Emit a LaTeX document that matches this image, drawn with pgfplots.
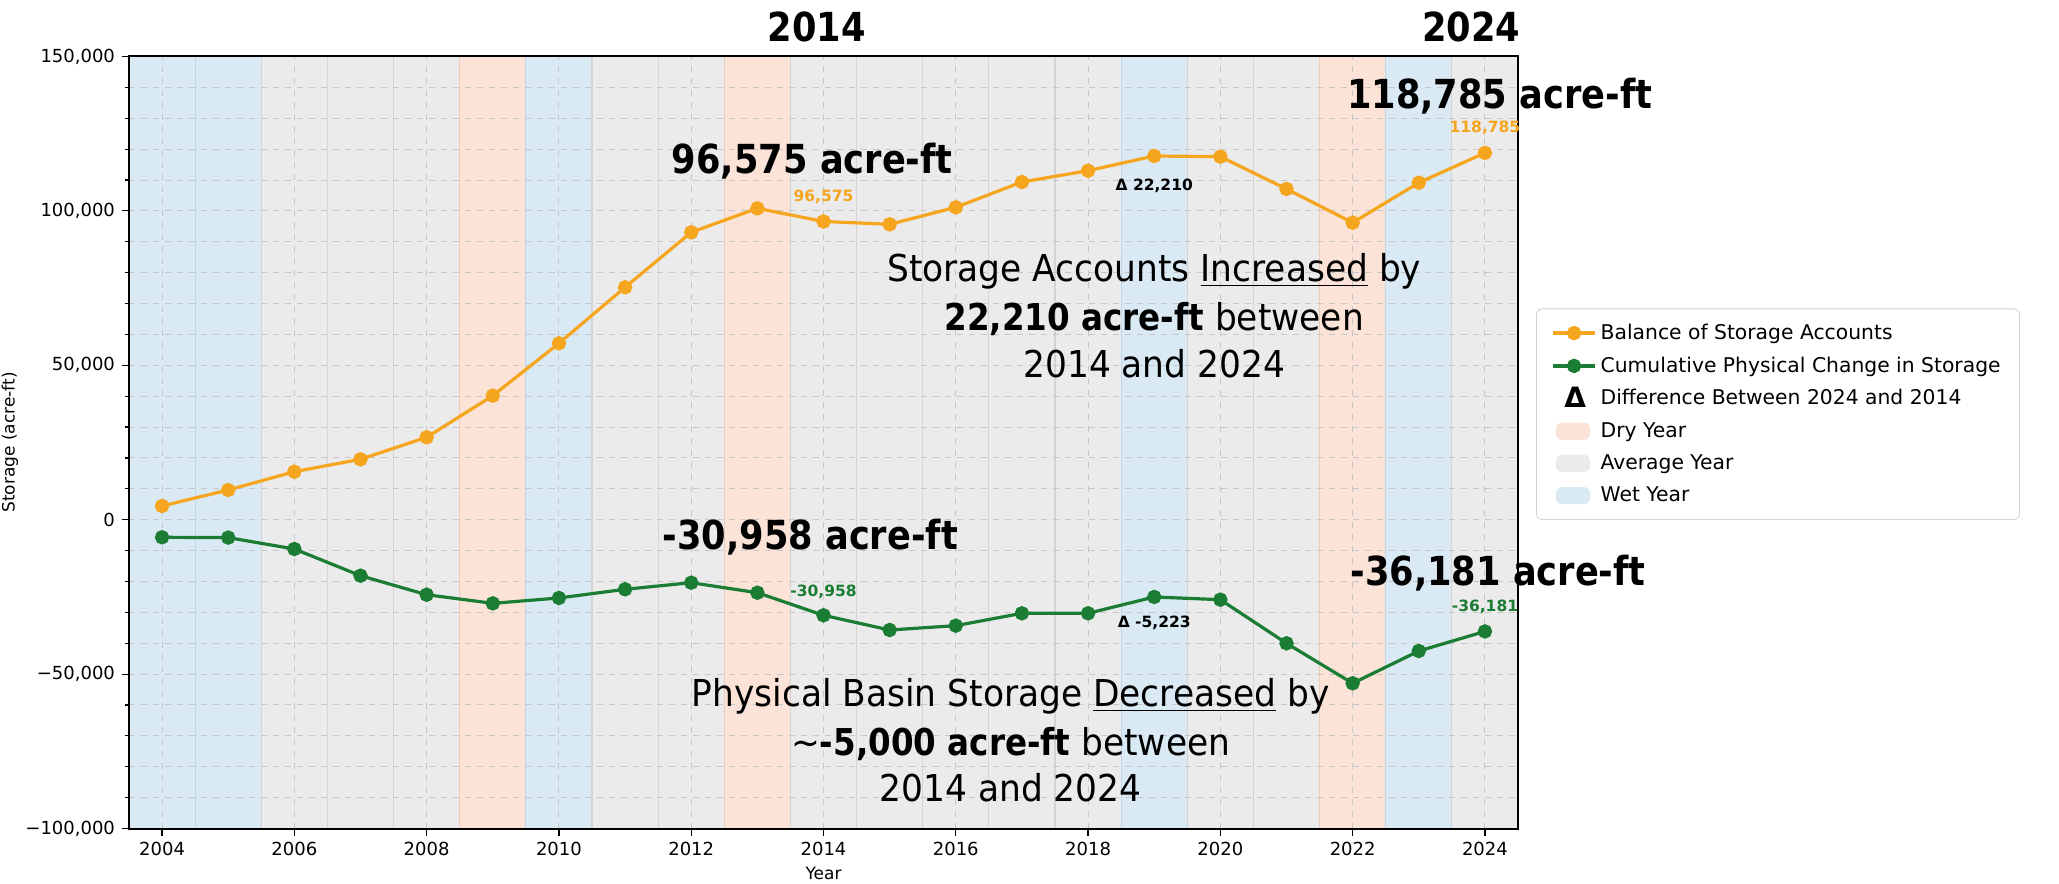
\documentclass[border=0pt]{standalone}
\usepackage{fontspec}
\setmainfont{DejaVu Sans}
\newfontfamily\annfont{DejaVu Sans}[FakeStretch=0.93]
\newfontfamily\annbfont{DejaVu Sans Bold}[FakeStretch=0.88]
\newfontfamily\lblbf{DejaVu Sans Bold}
\usepackage{pgfplots}
\pgfplotsset{compat=1.18}
\usetikzlibrary{calc}

\definecolor{orA}{RGB}{245,165,30}
\definecolor{grA}{RGB}{27,125,51}
\definecolor{wetc}{RGB}{217,234,245}
\definecolor{wetcedge}{RGB}{192,214,232}
\definecolor{avgc}{RGB}{235,235,235}
\definecolor{avgcedge}{RGB}{212,212,212}
\definecolor{dryc}{RGB}{251,227,215}
\definecolor{drycedge}{RGB}{236,202,188}
\definecolor{legbord}{RGB}{210,210,210}

\newcommand{\band}[3]{\addplot[on layer=axis background, fill=#3, draw=#3edge, line width=0.6pt, forget plot] coordinates {(#1,-100000) (#2,-100000) (#2,150000) (#1,150000)} -- cycle;}

\begin{document}
\begin{tikzpicture}
\begin{axis}[
  name=ax, at={(0,0)}, anchor=south west,
  scale only axis, width=694.5pt, height=386pt,
  xmin=2003.5, xmax=2024.5, ymin=-100000, ymax=150000,
  set layers, clip=false, scaled y ticks=false, scaled x ticks=false,
  xtick={2004,2006,2008,2010,2012,2014,2016,2018,2020,2022,2024},
  xticklabels={2004,2006,2008,2010,2012,2014,2016,2018,2020,2022,2024},
  ytick={-100000,-50000,0,50000,100000,150000},
  yticklabels={{−100,000},{−50,000},{0},{50,000},{100,000},{150,000}},
  minor ytick={-90000,-80000,-70000,-60000,-40000,-30000,-20000,-10000,10000,20000,30000,40000,60000,70000,80000,90000,110000,120000,130000,140000},
  xmajorgrids, ymajorgrids, yminorgrids,
  major grid style={dashed, color=black!22, line width=0.5pt},
  minor grid style={dashed, color=black!22, line width=0.5pt},
  tick pos=left, tick align=outside,
  major tick length=3.5pt, minor tick length=2pt,
  tick style={black, line width=0.6pt},
  axis line style={black, line width=1pt},
  ticklabel style={font=\fontsize{9}{10}\selectfont},
  xlabel={Year}, ylabel={Storage (acre-ft)},
  label style={font=\fontsize{8.5}{10}\selectfont},
  xlabel style={at={(axis description cs:0.5,-0.0576)}, anchor=center},
  ylabel style={at={(axis description cs:-0.0857,0.5)}, anchor=center},
  legend style={at={(axis description cs:1.013,0.6736)}, anchor=north west,
    draw=legbord, rounded corners=3pt, fill=white,
    font=\fontsize{10.15}{12}\selectfont, row sep=3.2pt,
    inner xsep=7.5pt, inner ysep=5.5pt},
  legend cell align=left,
  legend image code/.code={\draw[mark repeat=2,mark phase=2,#1] plot coordinates {(0pt,0pt) (10.5pt,0pt) (21pt,0pt)};},
]
\band{2003.5}{2004.5}{wetc}
\band{2004.5}{2005.5}{wetc}
\band{2005.5}{2006.5}{avgc}
\band{2006.5}{2007.5}{avgc}
\band{2007.5}{2008.5}{avgc}
\band{2008.5}{2009.5}{dryc}
\band{2009.5}{2010.5}{wetc}
\band{2010.5}{2011.5}{avgc}
\band{2011.5}{2012.5}{avgc}
\band{2012.5}{2013.5}{dryc}
\band{2013.5}{2014.5}{avgc}
\band{2014.5}{2015.5}{avgc}
\band{2015.5}{2016.5}{avgc}
\band{2016.5}{2017.5}{avgc}
\band{2017.5}{2018.5}{avgc}
\band{2018.5}{2019.5}{wetc}
\band{2019.5}{2020.5}{avgc}
\band{2020.5}{2021.5}{avgc}
\band{2021.5}{2022.5}{dryc}
\band{2022.5}{2023.5}{wetc}
\band{2023.5}{2024.5}{avgc}

\addplot[orA, line width=1.6pt, mark=*, mark size=2.8pt, mark options={solid}] coordinates {
(2004,4440) (2005,9620) (2006,15550) (2007,19560) (2008,26680) (2009,40160)
(2010,57120) (2011,75260) (2012,93070) (2013,100830) (2014,96575) (2015,95650)
(2016,101160) (2017,109360) (2018,113020) (2019,117780) (2020,117560) (2021,107090)
(2022,96180) (2023,109130) (2024,118785)};
\addlegendentry{Balance of Storage Accounts}

\addplot[grA, line width=1.6pt, mark=*, mark size=2.8pt, mark options={solid}] coordinates {
(2004,-5700) (2005,-5800) (2006,-9490) (2007,-18130) (2008,-24290) (2009,-27090)
(2010,-25350) (2011,-22540) (2012,-20400) (2013,-23640) (2014,-30958) (2015,-35720)
(2016,-34310) (2017,-30310) (2018,-30310) (2019,-25030) (2020,-25900) (2021,-40030)
(2022,-52980) (2023,-42520) (2024,-36181)};
\addlegendentry{Cumulative Physical Change in Storage}

\addlegendimage{legend image code/.code={\path[draw=none,fill=none] (0pt,0pt) -- (21pt,0pt); \node[font=\lblbf\fontsize{14}{14}\selectfont, inner sep=0pt, draw=none, fill=none, text=black] at (5.5pt,0pt) {Δ};}}
\addlegendentry{Difference Between 2024 and 2014}
\addlegendimage{legend image code/.code={\path[draw=none,fill=none] (0pt,0pt) -- (21pt,0pt); \fill[dryc, draw=none] (1.5pt,-4.25pt) rectangle (18.5pt,4.25pt);}}
\addlegendentry{Dry Year}
\addlegendimage{legend image code/.code={\path[draw=none,fill=none] (0pt,0pt) -- (21pt,0pt); \fill[avgc, draw=none] (1.5pt,-4.25pt) rectangle (18.5pt,4.25pt);}}
\addlegendentry{Average Year}
\addlegendimage{legend image code/.code={\path[draw=none,fill=none] (0pt,0pt) -- (21pt,0pt); \fill[wetc, draw=none] (1.5pt,-4.25pt) rectangle (18.5pt,4.25pt);}}
\addlegendentry{Wet Year}

% big headings
\begin{scope}[every node/.style={font=\annbfont\fontsize{20}{24}\selectfont, inner sep=0pt}]
\node[anchor=base] at (axis cs:2013.9,154700) {2014};
\node[anchor=base] at (axis cs:2023.79,154700) {2024};
\node[anchor=base] at (axis cs:2013.83,112270) {96,575 acre-ft};
\node[anchor=base west] at (axis cs:2021.91,133000) {118,785 acre-ft};
\node[anchor=base] at (axis cs:2013.8,-9810) {-30,958 acre-ft};
\node[anchor=base west] at (axis cs:2021.96,-21150) {-36,181 acre-ft};
\end{scope}

% paragraphs
\begin{scope}[every node/.style={font=\annfont\fontsize{18.5}{23}\selectfont, inner sep=0pt, anchor=base}]
\node at (axis cs:2019,76975) {Storage Accounts \underline{Increased} by};
\node at (axis cs:2019,61430) {{\annbfont 22,210 acre-ft} between};
\node at (axis cs:2019,46210) {2014 and 2024};
\node at (axis cs:2016.83,-60560) {Physical Basin Storage \underline{Decreased} by};
\node at (axis cs:2016.83,-76200) {\textasciitilde{\annbfont -5,000 acre-ft} between};
\node at (axis cs:2016.83,-91320) {2014 and 2024};
\end{scope}

% small value labels
\begin{scope}[every node/.style={font=\lblbf\fontsize{7.75}{9}\selectfont, inner sep=0pt, anchor=center}]
\node[text=orA] at (axis cs:2014,104500) {96,575};
\node[text=orA] at (axis cs:2024,126850) {118,785};
\node at (axis cs:2019,108160) {Δ 22,210};
\node[text=grA] at (axis cs:2014,-23310) {-30,958};
\node[text=grA] at (axis cs:2024,-28170) {-36,181};
\node at (axis cs:2019,-33350) {Δ -5,223};
\end{scope}
\end{axis}
\pgfresetboundingbox
\path[use as bounding box] ($(ax.south west)+(-64.5pt,-27.25pt)$) rectangle ($(ax.north east)+(270.5pt,28.25pt)$);
\end{tikzpicture}
\end{document}
